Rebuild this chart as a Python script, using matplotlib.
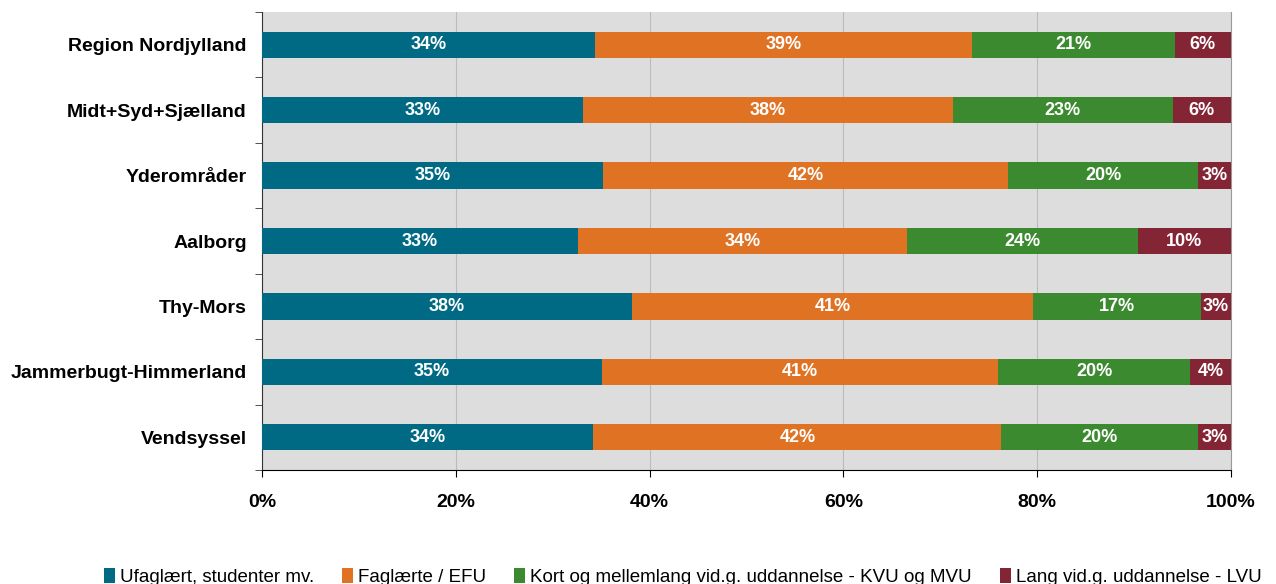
import matplotlib
matplotlib.use("Agg")
import matplotlib.pyplot as plt
from matplotlib.patches import Patch
import numpy as np

plt.rcParams['font.family'] = ['Liberation Sans', 'DejaVu Sans']

categories = ["Region Nordjylland", "Midt+Syd+Sjælland", "Yderområder", "Aalborg",
              "Thy-Mors", "Jammerbugt-Himmerland", "Vendsyssel"]
series_names = ["Ufaglært, studenter mv.", "Faglærte / EFU",
                "Kort og mellemlang vid.g. uddannelse - KVU og MVU",
                "Lang vid.g. uddannelse - LVU"]
ufaglaert = [34.4, 33.1, 35.2, 32.6, 38.2, 35.1, 34.2]
faglaerte = [38.9, 38.2, 41.8, 34.0, 41.4, 40.9, 42.1]
kvu_mvu = [20.9, 22.7, 19.6, 23.8, 17.3, 19.8, 20.3]
lvu = [5.8, 6.0, 3.4, 9.6, 3.1, 4.2, 3.4]
colors = ["#006A84", "#E07224", "#3C8A2F", "#832535"]
xticks = [0, 20, 40, 60, 80, 100]

fig = plt.figure(figsize=(12.76, 5.84), dpi=100)
ax = fig.add_axes([262/1276, 1-470/584, (1231-262)/1276, (470-12)/584])
ax.set_facecolor("#DDDDDD")

y = np.arange(len(categories))
left = np.zeros(len(categories))
for vals, col in zip([ufaglaert, faglaerte, kvu_mvu, lvu], colors):
    vals = np.array(vals)
    ax.barh(y, vals, left=left, height=0.4, color=col, zorder=3)
    for yi, l, v in zip(y, left, vals):
        ax.text(l + v/2, yi, f"{v:.0f}%", ha="center", va="center", color="white",
                fontsize=13, fontweight="bold", zorder=4)
    left = left + vals

ax.set_xlim(0, 100)
ax.set_ylim(len(categories)-0.5, -0.5)
ax.set_xticks(xticks)
ax.set_xticklabels([f"{t}%" for t in xticks], fontsize=14, fontweight="bold")
ax.set_yticks(y)
ax.set_yticklabels(categories, fontsize=14, fontweight="bold")
ax.tick_params(axis="y", length=0, pad=11)
ax.set_yticks(np.arange(-0.5, len(categories)), minor=True)
ax.tick_params(axis="y", which="minor", length=5, direction="out", color="#333333")
ax.tick_params(axis="x", length=5, direction="out", pad=12, color="black")
ax.grid(axis="x", color="#BBBBBB", linewidth=0.8, zorder=0)
for s in ["top"]:
    ax.spines[s].set_visible(False)
ax.spines["right"].set_color("#999999")
ax.spines["left"].set_color("#333333")
ax.spines["bottom"].set_color("black")

handles = [Patch(facecolor=c) for c in colors]
fig.legend(handles, series_names, loc="center", bbox_to_anchor=(0.535, 1-577/584),
           ncol=4, frameon=False, fontsize=13.5, handlelength=0.6, handleheight=0.8,
           handletextpad=0.25, columnspacing=1.5, borderpad=0.2)

fig.savefig("out.png", dpi=100)
